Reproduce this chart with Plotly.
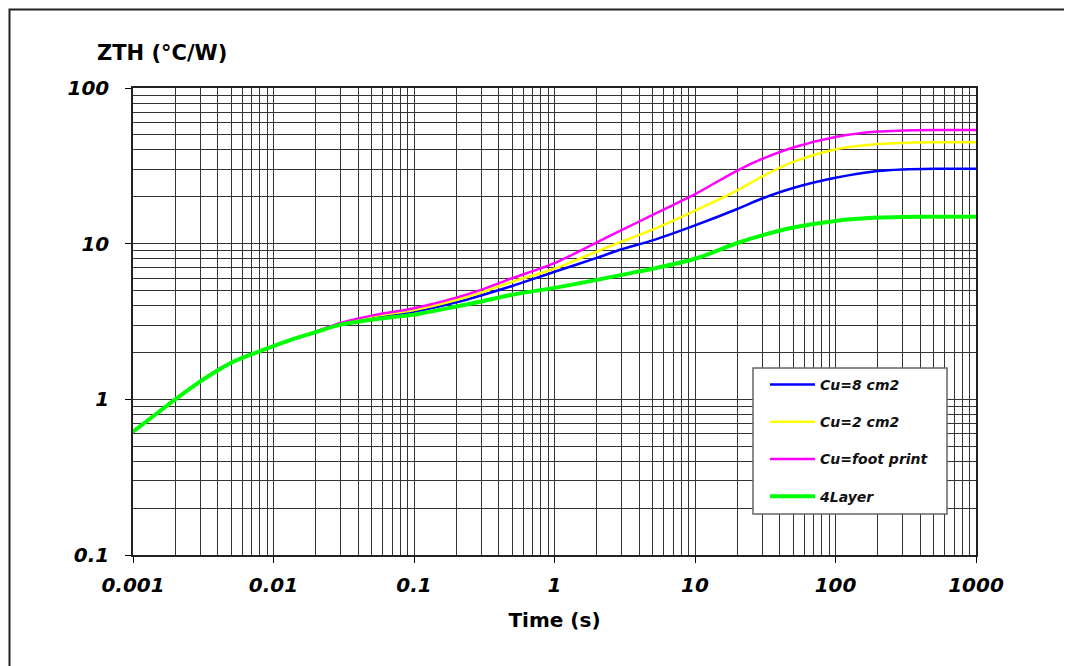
import plotly.graph_objects as go

# ---- data ----
time_s = [0.001, 0.0015, 0.002, 0.003, 0.004, 0.005, 0.007, 0.01, 0.015, 0.02, 0.03,
          0.05, 0.1, 0.2, 0.3, 0.5, 1, 2, 3, 5, 10, 20, 30, 50, 100, 200, 300, 500, 1000]

cu_8cm2 = [0.62, 0.82, 1.0, 1.3, 1.55, 1.72, 1.95, 2.2, 2.5, 2.71, 3.06,
           3.36, 3.65, 4.2, 4.65, 5.35, 6.6, 8.1, 9.2, 10.5, 13.1, 16.7, 19.5, 22.8,
           26.5, 29.3, 30.0, 30.3, 30.3]
cu_2cm2 = [0.62, 0.82, 1.0, 1.3, 1.55, 1.72, 1.95, 2.2, 2.5, 2.71, 3.07,
           3.4, 3.75, 4.35, 4.85, 5.7, 6.9, 8.9, 10.3, 12.3, 16.3, 22.0, 27.0, 33.5,
           40.3, 43.6, 44.4, 44.8, 44.8]
cu_footprint = [0.62, 0.82, 1.0, 1.3, 1.55, 1.72, 1.95, 2.2, 2.5, 2.72, 3.1,
                3.45, 3.85, 4.5, 5.05, 6.0, 7.5, 10.2, 12.2, 15.3, 20.8, 29.5, 35.0, 41.5,
                48.5, 52.5, 53.3, 53.7, 53.8]
layer4 = [0.62, 0.82, 1.0, 1.3, 1.53, 1.72, 1.95, 2.2, 2.5, 2.7, 3.02,
          3.25, 3.5, 3.95, 4.25, 4.7, 5.2, 5.85, 6.3, 6.9, 8.0, 10.1, 11.3, 12.7,
          14.0, 14.7, 14.85, 14.9, 14.9]

series_names = ["Cu=8 cm2", "Cu=2 cm2", "Cu=foot print", "4Layer"]

x_tickvals = [0.001, 0.01, 0.1, 1, 10, 100, 1000]
x_ticktext = ["0.001", "0.01", "0.1", "1", "10", "100", "1000"]
y_tickvals = [0.1, 1, 10, 100]
y_ticktext = ["0.1", "1", "10", "100"]

# ---- styling ----
colors = ["#0000FF", "#FFFF00", "#FF00FF", "#00FF00"]
widths = [2.5, 2.5, 2.5, 4]
FONT = "DejaVu Sans, Liberation Sans, Arial, sans-serif"
GRID = "#333333"

x_minor = [m * 10 ** e for e in range(-3, 3) for m in range(2, 10)]
y_minor = [m * 10 ** e for e in range(-1, 2) for m in range(2, 10)]

def px_x(p):  # page pixel -> paper fraction (plot area 133..976)
    return (p - 133) / 843

def px_y(p):  # page pixel -> paper fraction (plot area 88..555)
    return (555 - p) / 467

fig = go.Figure()
for name, ys, c, w in zip(series_names, [cu_8cm2, cu_2cm2, cu_footprint, layer4], colors, widths):
    fig.add_trace(go.Scatter(
        x=time_s, y=ys, name=name, mode="lines",
        line=dict(color=c, width=w, shape="spline", smoothing=0.8),
        legendgroup=name,
    ))

# page body has an 8px default margin -> figure is 8px smaller, plot area lands at (133..976, 88..555)
fig.update_layout(
    width=1064, height=658,
    margin=dict(l=125, r=96, t=80, b=111),
    paper_bgcolor="white", plot_bgcolor="white",
    font=dict(family=FONT, color="black"),
    showlegend=True,
    legend=dict(
        x=px_x(765), y=px_y(369), xanchor="left", yanchor="top",
        bgcolor="rgba(0,0,0,0)", borderwidth=0,
        font=dict(family=FONT, size=14, weight="bold", style="italic", color="#111"),
        tracegroupgap=16, traceorder="grouped", itemwidth=45,
    ),
    xaxis=dict(
        type="log", range=[-3, 3],
        tickvals=x_tickvals, ticktext=x_ticktext,
        tickfont=dict(family=FONT, size=20, weight="bold", style="italic"),
        ticks="outside", ticklen=6, tickcolor="black", ticklabelstandoff=5,
        showgrid=True, gridcolor=GRID, gridwidth=1,
        minor=dict(tickvals=x_minor, showgrid=True, gridcolor=GRID, gridwidth=1, ticks=""),
        showline=True, linecolor="#222", linewidth=1.5, mirror=True,
        title=dict(text="Time (s)", font=dict(family=FONT, size=20, weight="bold"), standoff=17),
        zeroline=False,
    ),
    yaxis=dict(
        type="log", range=[-1, 2],
        tickvals=y_tickvals, ticktext=y_ticktext,
        tickfont=dict(family=FONT, size=20, weight="bold", style="italic"),
        ticks="outside", ticklen=6, tickcolor="black", ticklabelstandoff=12,
        showgrid=True, gridcolor=GRID, gridwidth=1,
        minor=dict(tickvals=y_minor, showgrid=True, gridcolor=GRID, gridwidth=1, ticks=""),
        showline=True, linecolor="#222", linewidth=1.5, mirror=True,
        zeroline=False,
    ),
    annotations=[dict(
        text="ZTH (°C/W)", xref="paper", yref="paper",
        x=px_x(95), y=px_y(53), xanchor="left", yanchor="middle",
        showarrow=False, font=dict(family=FONT, size=21, weight="bold", color="black"),
    )],
    shapes=[
        dict(  # outer frame
            type="rect", xref="paper", yref="paper",
            x0=px_x(9.5), x1=px_x(1100), y0=px_y(700), y1=px_y(9.5),
            line=dict(color="#222", width=2), fillcolor="rgba(0,0,0,0)", layer="below",
        ),
        dict(  # legend box
            type="rect", xref="paper", yref="paper",
            x0=px_x(753), x1=px_x(947), y0=px_y(514), y1=px_y(368),
            line=dict(color="#666666", width=1.5), fillcolor="white", layer="above",
        ),
    ],
)

fig.write_html("out.html")
